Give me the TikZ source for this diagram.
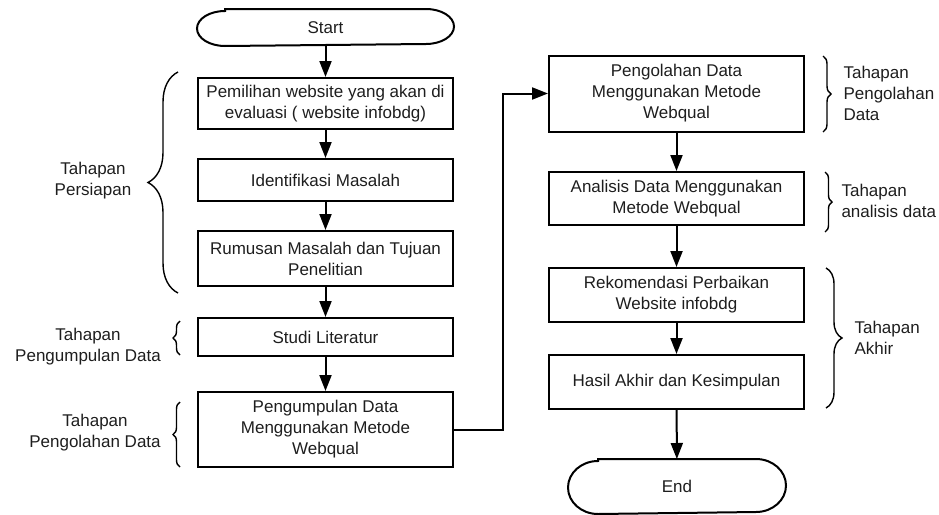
\documentclass[tikz,border=0pt]{standalone}
\usepackage{fontspec}
\setmainfont{Liberation Sans}
\usepackage{xcolor}
\usetikzlibrary{arrows.meta,positioning,decorations.pathreplacing}

\newcommand{\lbl}{\fontsize{17}{21}\selectfont}
\definecolor{ink}{RGB}{30,30,30}

\tikzset{
  box/.style={draw,line width=2pt,minimum width=255pt,inner sep=0pt,align=center,font=\lbl,text=ink},
  term/.style={box,draw=none},
  arr/.style={line width=2pt,-{Triangle[length=16pt,width=12pt]}},
  brc/.style={decorate,line width=1.4pt,decoration={brace,amplitude=#1}},
  note/.style={align=center,font=\lbl,text=ink}
}

\begin{document}
\begin{tikzpicture}[x=1pt,y=-1pt]
  \useasboundingbox (0,0) rectangle (939,514);
  % left column
  \node[term,minimum height=35pt] (start) at (325.5,27.5) {Start};
  \node[box,minimum height=51pt] (pilih) at (325.5,103.5) {Pemilihan website yang akan di\\evaluasi ( website infobdg)};
  \node[box,minimum height=42pt] (ident) at (325.5,180) {Identifikasi Masalah};
  \node[box,minimum height=55pt] (rumus) at (325.5,258.5) {Rumusan Masalah dan Tujuan\\Penelitian};
  \node[box,minimum height=38pt] (studi) at (325.5,337) {Studi Literatur};
  \node[box,minimum height=75pt] (kumpul) at (325.5,429.5) {Pengumpulan Data\\Menggunakan Metode\\Webqual};
  % right column
  \node[box,minimum height=76pt] (olah) at (676.5,93.5) {Pengolahan Data\\Menggunakan Metode\\Webqual};
  \node[box,minimum height=53pt] (analisis) at (676.5,198.5) {Analisis Data Menggunakan\\Metode Webqual};
  \node[box,minimum height=54pt] (rekom) at (676.5,295) {Rekomendasi Perbaikan\\Website infobdg};
  \node[box,minimum height=54pt] (hasil) at (676.5,382) {Hasil Akhir dan Kesimpulan};
  \node[term,minimum width=216pt,minimum height=53pt] (end) at (677,486.5) {End};

  % terminal outlines with oval ends
  \draw[line width=2pt] ([xshift=28pt]start.north west) -- ([xshift=-28pt]start.north east)
    arc[start angle=-90,end angle=90,x radius=28,y radius=17.5]
    -- ([xshift=28pt]start.south west)
    arc[start angle=90,end angle=270,x radius=28,y radius=17.5] -- cycle;
  \draw[line width=2pt] ([xshift=30pt]end.north west) -- ([xshift=-30pt]end.north east)
    arc[start angle=-90,end angle=90,x radius=30,y radius=26.5]
    -- ([xshift=30pt]end.south west)
    arc[start angle=90,end angle=270,x radius=30,y radius=26.5] -- cycle;

  % flow
  \draw[arr] (start) -- (pilih);
  \draw[arr] (pilih) -- (ident);
  \draw[arr] (ident) -- (rumus);
  \draw[arr] (rumus) -- (studi);
  \draw[arr] (studi) -- (kumpul);
  \draw[arr] (kumpul.east) -- ++(49,0) |- (olah.west);
  \draw[arr] (olah) -- (analisis);
  \draw[arr] (analisis) -- (rekom);
  \draw[arr] (rekom) -- (hasil);
  \draw[arr] (hasil) -- (end);

  % stage braces, left
  \draw[brc=30] (178,293) -- (178,72);
  \draw[brc=7] (180,355) -- (180,321);
  \draw[brc=7] (180,467) -- (180,402);
  \node[note] (persiapan) at (93,181) {Tahapan\\Persiapan};
  \node[note] (tkumpul) at (88,347) {Tahapan\\Pengumpulan Data};
  \node[note] (tolah) at (95,433) {Tahapan\\Pengolahan Data};

  % stage braces, right
  \draw[brc=8] (823,56) -- (823,132);
  \draw[brc=7] (825,172) -- (825,232);
  \draw[brc=16] (826,268) -- (826,408);
  \node[note,anchor=west,align=left] (tolah2) at (840,93) {Tahapan\\Pengolahan\\Data};
  \node[note,anchor=west,align=left] (tanalisis) at (838,201) {Tahapan\\analisis data};
  \node[note,anchor=west,align=left] (takhir) at (851,338) {Tahapan\\Akhir};
\end{tikzpicture}
\end{document}
